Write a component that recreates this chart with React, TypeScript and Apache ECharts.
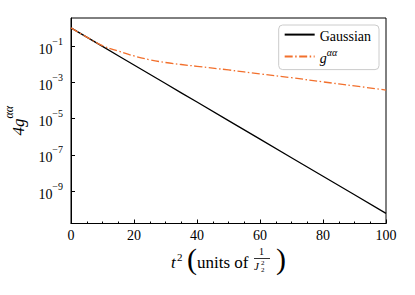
import React, { useEffect, useRef } from "react";
import * as echarts from "echarts";

const tSquared = [0, 5, 10, 15, 20, 25, 30, 35, 40, 50, 60, 70, 80, 90, 100];
const gaussian = [1, 0.308, 0.0948, 0.0292, 9.0e-3, 2.77e-3, 8.5e-4, 2.62e-4, 8.1e-5, 7.7e-6, 7.3e-7, 6.9e-8, 6.6e-9, 6.2e-10, 5.9e-11];
const gAlphaAlpha = [1, 0.309, 0.105, 0.0525, 0.0282, 0.0174, 0.0123, 0.00955, 0.00759, 0.00479, 0.00288, 0.00178, 0.00105, 6.31e-4, 3.72e-4];
const yTickExponents = [-9, -7, -5, -3, -1];
const xTicks = [0, 20, 40, 60, 80, 100];
const seriesNames = ["Gaussian", "gαα"];

const FONT = "Liberation Serif";
const ORANGE = "#f2702d";

export default function App() {
  const ref = useRef<HTMLDivElement>(null);
  useEffect(() => {
    if (!ref.current) return;
    const chart = echarts.init(ref.current, undefined, { renderer: "svg" });
    const toLog = (arr: number[]) => arr.map((v, i) => [tSquared[i], Math.log10(v)]);
    chart.setOption({
      animation: false,
      backgroundColor: "#fff",
      textStyle: { fontFamily: FONT },
      grid: {
        left: 71, right: 29, top: 18, bottom: 71.5,
        outerBoundsMode: "none", containLabel: false,
        show: true, borderColor: "#000", borderWidth: 1, backgroundColor: "transparent",
      },
      xAxis: {
        type: "value",
        min: 0,
        max: 100,
        interval: 20,
        axisLine: { show: true, onZero: false, lineStyle: { color: "#000", width: 1 } },
        axisTick: { show: true, inside: true, length: 4, lineStyle: { color: "#000" } },
        minorTick: { show: true, splitNumber: 4, length: 2, lineStyle: { color: "#000" } },
        splitLine: { show: false },
        axisLabel: { color: "#000", fontFamily: FONT, fontSize: 14, margin: 5, formatter: (v: number) => (xTicks.includes(v) ? String(v) : "") },
      },
      yAxis: {
        type: "value",
        min: -10.79,
        max: 0.545,
        axisLine: { show: true, onZero: false, lineStyle: { color: "#000", width: 1 } },
        axisTick: { show: true, inside: true, length: 4, customValues: yTickExponents, lineStyle: { color: "#000" } },
        splitLine: { show: false },
        axisLabel: {
          customValues: yTickExponents,
          margin: 8,
          fontFamily: FONT,
          formatter: (v: number) => `{b|10}{s|−${Math.abs(v)}}`,
          rich: {
            b: { fontFamily: FONT, fontSize: 14, color: "#000", lineHeight: 20, verticalAlign: "bottom" },
            s: { fontFamily: FONT, fontSize: 10, color: "#000", lineHeight: 10, verticalAlign: "top" },
          },
        },
        name: "{i|4g}{s|αα}",
        nameLocation: "middle",
        nameRotate: 90,
        nameGap: 36,
        nameTextStyle: {
          fontFamily: FONT,
          rich: {
            i: { fontFamily: FONT, fontStyle: "italic", fontSize: 17, color: "#000", lineHeight: 24, verticalAlign: "bottom" },
            s: { fontFamily: FONT, fontStyle: "italic", fontSize: 12, color: "#000", lineHeight: 12, verticalAlign: "top" },
          },
        },
      },
      legend: {
        show: true,
        orient: "vertical",
        right: 36,
        top: 25,
        padding: [4, 8, 4, 5],
        itemGap: 4,
        itemWidth: 30,
        itemHeight: 14,
        borderColor: "#ccc",
        borderWidth: 1,
        borderRadius: 4,
        backgroundColor: "rgba(255,255,255,0.8)",
        itemStyle: { opacity: 0 },
        data: seriesNames,
        formatter: (name: string) => (name === "Gaussian" ? "{n|Gaussian}" : "{i|g}{s|αα}"),
        textStyle: {
          fontFamily: FONT,
          rich: {
            n: { fontFamily: FONT, fontSize: 14, color: "#000", lineHeight: 18, verticalAlign: "bottom" },
            i: { fontFamily: FONT, fontStyle: "italic", fontSize: 14, color: "#000", lineHeight: 18, verticalAlign: "bottom" },
            s: { fontFamily: FONT, fontStyle: "italic", fontSize: 10, color: "#000", lineHeight: 10, verticalAlign: "top" },
          },
        },
      },
      series: [
        {
          name: seriesNames[0],
          type: "line",
          data: toLog(gaussian),
          symbol: "none",
          lineStyle: { color: "#000", width: 1.3 },
          itemStyle: { color: "#000" },
        },
        {
          name: seriesNames[1],
          type: "line",
          data: toLog(gAlphaAlpha),
          symbol: "none",
          smooth: 0.4,
          lineStyle: { color: ORANGE, width: 1.3, type: [8, 2.5, 1.5, 2.5] },
          itemStyle: { color: ORANGE },
        },
      ],
      graphic: [
        { type: "text", x: 171, y: 254, style: { text: "t", font: `italic 17px ${FONT}`, fill: "#000" } },
        { type: "text", x: 177, y: 251, style: { text: "2", font: `11px ${FONT}`, fill: "#000" } },
        { type: "text", x: 187, y: 243, style: { text: "(", font: `30px ${FONT}`, fill: "#000" } },
        { type: "text", x: 197, y: 254, style: { text: "units of", font: `17px ${FONT}`, fill: "#000" } },
        { type: "text", x: 259, y: 246, style: { text: "1", font: `10px ${FONT}`, fill: "#000" } },
        { type: "line", shape: { x1: 254, y1: 258.5, x2: 270, y2: 258.5 }, style: { stroke: "#000", lineWidth: 0.8 } },
        { type: "text", x: 254, y: 260, style: { text: "J", font: `italic 11px ${FONT}`, fill: "#000" } },
        { type: "text", x: 261, y: 266, style: { text: "2", font: `7px ${FONT}`, fill: "#000" } },
        { type: "text", x: 261, y: 259, style: { text: "2", font: `7px ${FONT}`, fill: "#000" } },
        { type: "text", x: 276, y: 243, style: { text: ")", font: `30px ${FONT}`, fill: "#000" } },
      ],
    });
    return () => chart.dispose();
  }, []);
  return <div ref={ref} style={{ position: "absolute", left: 0, top: 0, width: 415, height: 295 }} />;
}
